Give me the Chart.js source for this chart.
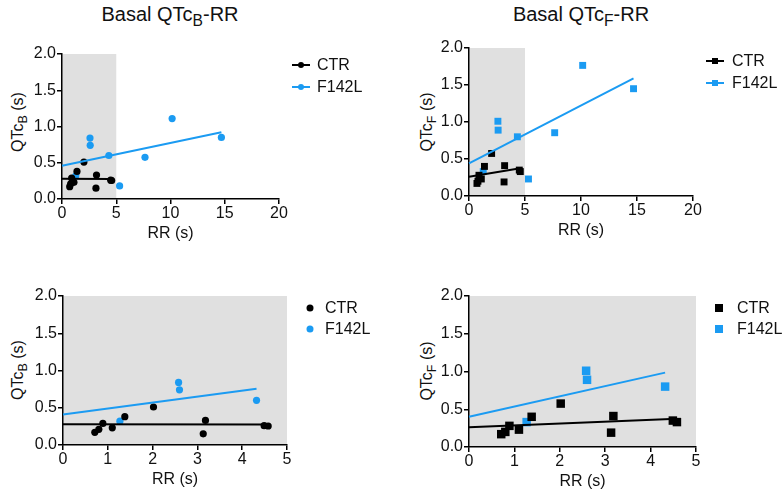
<!DOCTYPE html>
<html>
<head>
<meta charset="utf-8">
<script src="https://cdn.jsdelivr.net/npm/chart.js@4/dist/chart.umd.min.js"></script>
<style>
  body { margin: 0; background: #fff; font-family: "Liberation Sans", Arial, sans-serif; }
  #page { position: relative; width: 783px; height: 497px; overflow: hidden; }
  canvas { position: absolute; }
  .titulo { position: absolute; font-size: 20px; line-height: 20px; color: #111; white-space: nowrap; transform: translateX(-50%); }
  .ytit { position: absolute; font-size: 16px; line-height: 16px; color: #111; white-space: nowrap; transform: translate(-50%, -50%) rotate(-90deg); }
  sub { font-size: 0.78em; vertical-align: -0.35em; line-height: 0; }
</style>
</head>
<body>
<div id="page">
  <div class="titulo" style="left:170px; top:4px">Basal QTc<sub>B</sub>-RR</div>
  <div class="titulo" style="left:581px; top:4px">Basal QTc<sub>F</sub>-RR</div>
  <div class="ytit" style="left:18px; top:122px">QTc<sub>B</sub> (s)</div>
  <div class="ytit" style="left:427px; top:122px">QTc<sub>F</sub> (s)</div>
  <div class="ytit" style="left:18px; top:370px">QTc<sub>B</sub> (s)</div>
  <div class="ytit" style="left:427px; top:371px">QTc<sub>F</sub> (s)</div>
  <canvas id="g1" width="392" height="230" style="left:0; top:30px"></canvas>
  <canvas id="g2" width="391" height="230" style="left:392px; top:30px"></canvas>
  <canvas id="g3" width="392" height="227" style="left:0; top:270px"></canvas>
  <canvas id="g4" width="391" height="227" style="left:392px; top:270px"></canvas>
</div>
<script>
// RR (s) e QTc (s)
const rrCtr = [0.71, 0.80, 0.89, 1.10, 1.38, 2.02, 3.13, 3.18, 4.49, 4.58];
const qtcbCtr = [0.17, 0.21, 0.29, 0.23, 0.38, 0.51, 0.15, 0.33, 0.26, 0.255];
const qtcfCtr = [0.17, 0.20, 0.28, 0.23, 0.40, 0.575, 0.19, 0.41, 0.35, 0.33];

const rrF142l = [1.27, 2.58, 2.60, 4.32, 5.31, 7.65, 10.15, 14.69];
const qtcbF142l = [0.32, 0.84, 0.74, 0.60, 0.18, 0.575, 1.11, 0.85];
const qtcfF142l = [0.33, 1.01, 0.89, 0.80, 0.23, 0.855, 1.765, 1.45];

// retas de regressao (extremos)
const fitRrCtr = [0, 4.58];
const fitRrF142lTodos = [0, 14.69];
const fitRrF142lBasal = [0, 4.32];
const fitQtcbCtr = [0.28, 0.275];
const fitQtcbF142lTodos = [0.46, 0.92];
const fitQtcbF142lBasal = [0.41, 0.755];
const fitQtcfCtr = [0.26, 0.375];
const fitQtcfF142lTodos = [0.44, 1.59];
const fitQtcfF142lBasal = [0.40, 0.985];

const rrLimiteBasal = 5;
const ticksY = [0, 0.5, 1.0, 1.5, 2.0];
const grupos = ["CTR", "F142L"];

const PRETO = "#000000";
const AZUL = "#1b9bf2";
const CINZA = "#e0e0e0";
const FONTE = "'Liberation Sans', Arial, sans-serif";

function pontos(xs, ys, limite) {
  const lista = [];
  xs.forEach((x, i) => {
    if (limite === undefined || x < limite) lista.push({ x: x, y: ys[i] });
  });
  return lista;
}

const areaCinza = {
  id: "areaCinza",
  beforeDraw(chart, args, opts) {
    const { ctx, chartArea, scales } = chart;
    const x0 = scales.x.getPixelForValue(0);
    const x1 = scales.x.getPixelForValue(opts.ate);
    ctx.save();
    ctx.fillStyle = CINZA;
    ctx.fillRect(x0, chartArea.top, x1 - x0, chartArea.bottom - chartArea.top);
    ctx.restore();
  }
};

const legendaLateral = {
  id: "legendaLateral",
  afterDraw(chart, args, opts) {
    const ctx = chart.ctx;
    ctx.save();
    grupos.forEach((nome, i) => {
      const cor = i === 0 ? PRETO : AZUL;
      const y = opts.y + i * opts.gap;
      const xm = opts.x;
      ctx.fillStyle = cor;
      ctx.strokeStyle = cor;
      if (opts.linha) {
        ctx.lineWidth = 2;
        ctx.beginPath();
        ctx.moveTo(xm - 9, y);
        ctx.lineTo(xm + 9, y);
        ctx.stroke();
      }
      if (opts.marca === "rect") {
        const s = opts.tam;
        ctx.fillRect(xm - s / 2, y - s / 2, s, s);
      } else {
        ctx.beginPath();
        ctx.arc(xm, y, opts.tam / 2, 0, Math.PI * 2);
        ctx.fill();
      }
      ctx.fillStyle = "#111";
      ctx.font = "16px " + FONTE;
      ctx.textBaseline = "middle";
      ctx.fillText(nome, opts.xTexto, y + 1);
    });
    ctx.restore();
  }
};

function montarGrafico(id, cfg) {
  const datasets = [
    {
      data: pontos(cfg.fitXCtr, cfg.fitYCtr),
      showLine: true,
      borderColor: PRETO,
      borderWidth: 2,
      pointRadius: 0
    },
    {
      data: pontos(cfg.fitXF, cfg.fitYF),
      showLine: true,
      borderColor: AZUL,
      borderWidth: 2,
      pointRadius: 0
    },
    {
      data: pontos(rrCtr, cfg.yCtr, cfg.limite),
      pointStyle: cfg.marca,
      pointRadius: cfg.raio,
      backgroundColor: PRETO,
      borderWidth: 0
    },
    {
      data: pontos(rrF142l, cfg.yF, cfg.limite),
      pointStyle: cfg.marca,
      pointRadius: cfg.raio,
      backgroundColor: AZUL,
      borderWidth: 0
    }
  ];

  return new Chart(document.getElementById(id), {
    type: "scatter",
    data: { datasets: datasets },
    plugins: [areaCinza, legendaLateral],
    options: {
      responsive: false,
      animation: false,
      events: [],
      clip: false,
      layout: {
        padding: { top: cfg.padTop, right: cfg.padRight, bottom: cfg.padBottom, left: 0 }
      },
      plugins: {
        legend: { display: false },
        tooltip: { enabled: false },
        areaCinza: { ate: cfg.sombra },
        legendaLateral: cfg.legenda
      },
      scales: {
        x: {
          type: "linear",
          min: 0,
          max: cfg.xMax,
          ticks: {
            stepSize: cfg.xPasso,
            color: "#111",
            padding: 0,
            font: { size: 16, family: FONTE }
          },
          grid: {
            drawOnChartArea: false,
            color: PRETO,
            lineWidth: 1.5,
            tickLength: 5
          },
          border: { color: PRETO, width: 1.5 },
          title: {
            display: true,
            text: "RR (s)",
            color: "#111",
            font: { size: 16, family: FONTE },
            padding: { top: 0, bottom: 3 }
          },
          afterFit: (s) => { s.height = 47; }
        },
        y: {
          type: "linear",
          min: 0,
          max: 2,
          afterBuildTicks: (s) => { s.ticks = ticksY.map((v) => ({ value: v })); },
          ticks: {
            color: "#111",
            padding: 1,
            font: { size: 16, family: FONTE },
            callback: (v) => Number(v).toFixed(1)
          },
          grid: {
            drawOnChartArea: false,
            color: PRETO,
            lineWidth: 1.5,
            tickLength: 5
          },
          border: { color: PRETO, width: 1.5 },
          afterFit: (s) => { s.width = cfg.larguraY; }
        }
      }
    }
  });
}

montarGrafico("g1", {
  yCtr: qtcbCtr, yF: qtcbF142l,
  fitXCtr: fitRrCtr, fitYCtr: fitQtcbCtr,
  fitXF: fitRrF142lTodos, fitYF: fitQtcbF142lTodos,
  marca: "circle", raio: 3.6,
  xMax: 20, xPasso: 5, sombra: rrLimiteBasal,
  larguraY: 62, padTop: 24, padRight: 113, padBottom: 14,
  legenda: { x: 301, xTexto: 317, y: 35, gap: 22, linha: true, marca: "circle", tam: 6 }
});

montarGrafico("g2", {
  yCtr: qtcfCtr, yF: qtcfF142l,
  fitXCtr: fitRrCtr, fitYCtr: fitQtcfCtr,
  fitXF: fitRrF142lTodos, fitYF: fitQtcfF142lTodos,
  marca: "rect", raio: 4.9,
  xMax: 20, xPasso: 5, sombra: rrLimiteBasal,
  larguraY: 77, padTop: 18, padRight: 90, padBottom: 17,
  legenda: { x: 323, xTexto: 340, y: 31, gap: 22, linha: true, marca: "rect", tam: 6 }
});

montarGrafico("g3", {
  yCtr: qtcbCtr, yF: qtcbF142l, limite: rrLimiteBasal,
  fitXCtr: fitRrCtr, fitYCtr: fitQtcbCtr,
  fitXF: fitRrF142lBasal, fitYF: fitQtcbF142lBasal,
  marca: "circle", raio: 3.6,
  xMax: 5, xPasso: 1, sombra: 5,
  larguraY: 63, padTop: 26, padRight: 105, padBottom: 5,
  legenda: { x: 310, xTexto: 325, y: 38, gap: 21, linha: false, marca: "circle", tam: 7 }
});

montarGrafico("g4", {
  yCtr: qtcfCtr, yF: qtcfF142l, limite: rrLimiteBasal,
  fitXCtr: fitRrCtr, fitYCtr: fitQtcfCtr,
  fitXF: fitRrF142lBasal, fitYF: fitQtcfF142lBasal,
  marca: "rect", raio: 6,
  xMax: 5, xPasso: 1, sombra: 5,
  larguraY: 77, padTop: 26, padRight: 87, padBottom: 3,
  legenda: { x: 327, xTexto: 345, y: 38, gap: 21, linha: false, marca: "rect", tam: 8 }
});
</script>
</body>
</html>
